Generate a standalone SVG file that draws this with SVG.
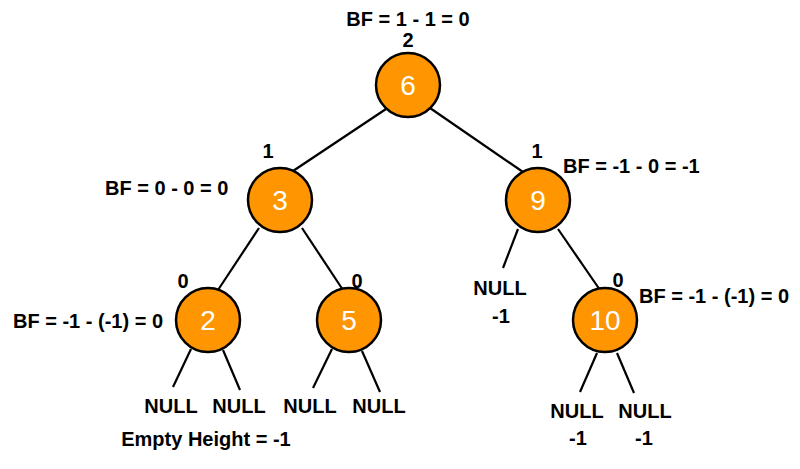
<svg xmlns="http://www.w3.org/2000/svg" width="800" height="469" viewBox="0 0 800 469">
<style>
.node circle{fill:#FF9500;stroke:#000;stroke-width:2.5}
.node text{fill:#fff;font-family:"Liberation Sans",Arial,sans-serif;font-size:28px;text-anchor:middle}
.lbl{fill:#000;font-family:"Liberation Sans",Arial,sans-serif;font-size:20px;font-weight:bold}
.c{text-anchor:middle}
#edges line{stroke:#000;stroke-width:2.2}
</style>
<rect width="800" height="469" fill="#fff"/>
<g id="edges">
<line x1="386" y1="109" x2="293" y2="171"/>
<line x1="430" y1="108" x2="523" y2="172"/>
<line x1="259" y1="228" x2="218" y2="290"/>
<line x1="302" y1="228" x2="343" y2="290"/>
<line x1="518" y1="229" x2="503" y2="268"/>
<line x1="558" y1="229" x2="600" y2="290"/>
<line x1="191" y1="349" x2="173" y2="387"/>
<line x1="223" y1="350" x2="240" y2="390"/>
<line x1="332" y1="349" x2="313" y2="388"/>
<line x1="362" y1="351" x2="380" y2="392"/>
<line x1="597" y1="353" x2="580" y2="392"/>
<line x1="617" y1="353" x2="634" y2="393"/>
</g>
<g id="n6" class="node"><circle cx="408" cy="85" r="32"/><text x="408" y="95">6</text></g>
<g id="n3" class="node"><circle cx="280" cy="200" r="32"/><text x="280" y="210">3</text></g>
<g id="n9" class="node"><circle cx="538" cy="200" r="32"/><text x="538" y="210">9</text></g>
<g id="n2" class="node"><circle cx="208" cy="320" r="32"/><text x="208" y="330">2</text></g>
<g id="n5" class="node"><circle cx="349" cy="320" r="32"/><text x="349" y="330">5</text></g>
<g id="n10" class="node"><circle cx="605" cy="320" r="32"/><text x="605" y="330">10</text></g>
<g id="labels">
<text class="lbl c" x="408" y="26">BF = 1 - 1 = 0</text>
<text class="lbl c" x="408" y="47">2</text>
<text class="lbl c" x="268" y="158">1</text>
<text class="lbl" x="105" y="195">BF = 0 - 0 = 0</text>
<text class="lbl c" x="537" y="158">1</text>
<text class="lbl" x="563" y="173">BF = -1 - 0 = -1</text>
<text class="lbl c" x="183" y="288">0</text>
<text class="lbl" x="13" y="328">BF = -1 - (-1) = 0</text>
<text class="lbl c" x="357" y="288">0</text>
<text class="lbl c" x="618" y="287">0</text>
<text class="lbl" x="639" y="303">BF = -1 - (-1) = 0</text>
<text class="lbl c" x="500" y="295">NULL</text>
<text class="lbl c" x="501" y="323">-1</text>
<text class="lbl c" x="171" y="413">NULL</text>
<text class="lbl c" x="239" y="413">NULL</text>
<text class="lbl c" x="310" y="413">NULL</text>
<text class="lbl c" x="379" y="413">NULL</text>
<text class="lbl c" x="206" y="446">Empty Height = -1</text>
<text class="lbl c" x="577" y="418">NULL</text>
<text class="lbl c" x="645" y="418">NULL</text>
<text class="lbl c" x="578" y="445">-1</text>
<text class="lbl c" x="644" y="445">-1</text>
</g>
</svg>
